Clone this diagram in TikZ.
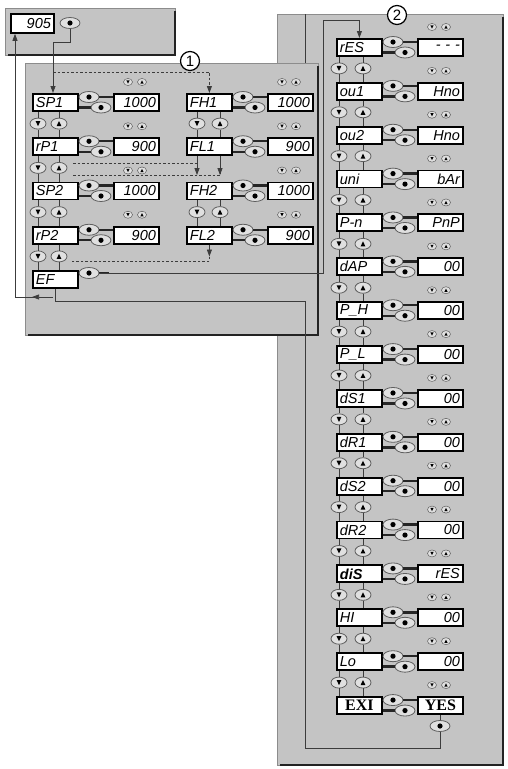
\documentclass[tikz,border=0pt]{standalone}
\usepackage{fontspec}
\usetikzlibrary{shapes.geometric,arrows.meta,calc}
\newfontfamily\lcdfont{Liberation Sans}
\newfontfamily\exifont{Liberation Serif}
\definecolor{panelgray}{RGB}{196,196,196}
\definecolor{btnfill}{RGB}{224,224,224}
\definecolor{btnline}{RGB}{95,95,95}
\definecolor{connc}{RGB}{60,60,60}
\definecolor{shadowc}{RGB}{35,35,35}

% name, x, y, label, value
\newcommand\prow[6][]{%
  \node[parbox,#1] (#2) at (#3,#4) {#5};
  \node[valbox,#1] (#2-v) at ({#3+81},{#4}) {#6};
  \node[eye] (#2-a) at ({#3+57},{#4+4}) {};
  \node[eye] (#2-b) at ({#3+69},{#4+14.5}) {};
  \draw[eyeline] (#2-a.east) -- (#2-a.east -| #2-v.west);
  \draw[eyeline] (#2-b.west -| #2.east) -- (#2-b.west);
  \node[icondn] (#2-i) at ({#3+81+15},{#4-11}) {};
  \node[iconup] (#2-j) at ({#3+81+29},{#4-11}) {};
}
% name, xdown, xup, y, upper node, lower node
\newcommand\btns[6]{%
  \node[dnbtn] (#1-d) at (#2,#4) {};
  \node[upbtn] (#1-u) at (#3,#4) {};
  \draw[conn] (#5.south -| #1-d) -- (#1-d.north);
  \draw[conn] (#1-d.south) -- (#6.north -| #1-d);
  \draw[conn] (#5.south -| #1-u) -- (#1-u.north);
  \draw[conn] (#1-u.south) -- (#6.north -| #1-u);
}

\begin{document}
\begin{tikzpicture}[x=1pt,y=-1pt,
  panelborder/.style={draw=black!45, line width=0.7pt},
  shadowline/.style={draw=shadowc, line width=2.8pt},
  lcdtext/.style={font=\lcdfont\itshape\fontsize{14.5}{14.5}\selectfont},
  exitext/.style={font=\exifont\bfseries\fontsize{16}{16}\selectfont, align=center},
  parbox/.style={rectangle, draw=black, line width=1.8pt, fill=white, inner xsep=3pt, inner ysep=0pt,
                 minimum height=17pt, text width=39pt, align=left, anchor=north west, lcdtext},
  valbox/.style={parbox, align=right},
  eye/.style={ellipse, draw=btnline, fill=btnfill, line width=0.8pt, minimum width=20pt, minimum height=11pt, inner sep=0pt,
              path picture={\fill[black] (path picture bounding box.center) circle (2.6pt);}},
  dnbtn/.style={ellipse, draw=btnline, fill=btnfill, line width=0.8pt, minimum width=16pt, minimum height=11pt, inner sep=0pt,
              path picture={\fill[black] ($(path picture bounding box.center)+(-2.4,-2.5)$) -- ++(4.8,0) -- ++(-2.4,5) -- cycle;}},
  upbtn/.style={ellipse, draw=btnline, fill=btnfill, line width=0.8pt, minimum width=16pt, minimum height=11pt, inner sep=0pt,
              path picture={\fill[black] ($(path picture bounding box.center)+(-2.4,2.5)$) -- ++(4.8,0) -- ++(-2.4,-5) -- cycle;}},
  icondn/.style={ellipse, draw=btnline, fill=btnfill, line width=0.5pt, minimum width=9pt, minimum height=7pt, inner sep=0pt,
              path picture={\fill[black] ($(path picture bounding box.center)+(-1.6,-1.6)$) -- ++(3.2,0) -- ++(-1.6,3.2) -- cycle;}},
  iconup/.style={ellipse, draw=btnline, fill=btnfill, line width=0.5pt, minimum width=9pt, minimum height=7pt, inner sep=0pt,
              path picture={\fill[black] ($(path picture bounding box.center)+(-1.6,1.6)$) -- ++(3.2,0) -- ++(-1.6,-3.2) -- cycle;}},
  conn/.style={draw=connc, line width=0.8pt},
  dashc/.style={draw=connc, line width=0.8pt, dash pattern=on 2.5pt off 2pt},
  eyeline/.style={draw=black!85, line width=2.4pt},
  arrowend/.style={-{Triangle[width=5pt,length=7pt]}},
  circlab/.style={circle, draw=black, line width=1.2pt, fill=white, minimum size=19pt, inner sep=0pt,
                  font=\lcdfont\fontsize{15}{15}\selectfont}
]
\useasboundingbox (0,0) rectangle (508,769);

% ---------- panels ----------
\fill[panelgray] (277,14) rectangle (503,765);
\draw[panelborder] (277,14) rectangle (503,765);
\draw[shadowline] (503,17) -- (503,765) -- (280,765);
\coordinate (t1) at (305,14);
\coordinate (t2) at (305,63);
\draw[conn] (t1) -- (t2);

\fill[panelgray] (25,63) rectangle (318,335);
\draw[panelborder] (25,63) rectangle (318,335);
\draw[shadowline] (318,66) -- (318,335) -- (28,335);

\fill[panelgray] (5,8) rectangle (175,55);
\draw[panelborder] (5,8) rectangle (175,55);
\draw[shadowline] (175,11) -- (175,55) -- (8,55);

\node[circlab] (c1) at (190,61) {1};
\node[circlab] (c2) at (397,15) {2};

% ---------- top display ----------
\node[valbox, text width=37pt, minimum height=19pt] (n905) at (10,13) {905};
\node[eye] (e905) at (70,23) {};

% ---------- panel 1, left column ----------
\prow{sp1}{32}{93}{SP1}{1000}
\prow{rp1}{32}{137.25}{rP1}{900}
\prow{sp2}{32}{181.5}{SP2}{1000}
\prow{rp2}{32}{225.75}{rP2}{900}
\node[parbox] (ef) at (32,270) {EF};
\node[eye] (efe) at (89,273) {};

\btns{a1}{38}{59}{123.6}{sp1}{rp1}
\btns{a2}{38}{59}{167.9}{rp1}{sp2}
\btns{a3}{38}{59}{212.1}{sp2}{rp2}
\btns{a4}{38}{59}{256.4}{rp2}{ef}

% ---------- panel 1, right column ----------
\prow{fh1}{186}{93}{FH1}{1000}
\prow{fl1}{186}{137.25}{FL1}{900}
\prow{fh2}{186}{181.5}{FH2}{1000}
\prow{fl2}{186}{225.75}{FL2}{900}

\btns{f1}{197}{220}{123.6}{fh1}{fl1}
\btns{f2}{197}{220}{212.1}{fh2}{fl2}

% ---------- panel 2 ----------
\foreach \i/\lab/\val in {0/rES/{-\,\,-\,\,-},1/ou1/Hno,2/ou2/Hno,3/uni/bAr,4/P-n/PnP,5/dAP/00,6/P\_H/00,7/P\_L/00,
   8/dS1/00,9/dR1/00,10/dS2/00,11/dR2/00,12/{\bfseries diS}/rES,13/HI/00,14/Lo/00}
  {\prow{r\i}{336}{38+43.87*\i}{\lab}{\val}}
\prow[exitext]{r15}{336}{696.05}{EXI}{YES}

\foreach \i in {0,...,14}{%
  \pgfmathtruncatemacro\j{\i+1}%
  \btns{b\i}{339}{363}{38+43.87*\i+30.4}{r\i}{r\j}}

\node[eye] (yese) at (440,726) {};
\draw[conn] (r15-v.south -| yese) -- (yese.north);

% ---------- connectors ----------
\coordinate (k1) at (53,42);
\draw[conn, arrowend] (e905.south) |- (k1) -- (k1 |- sp1.north);
\coordinate (k2) at (53,72);
\draw[dashc, arrowend] (k2) -| (fh1.north);

\coordinate (k3) at (197,163);
\coordinate (k5) at (73,163);
\coordinate (k4) at (220,175);
\coordinate (k6) at (73,175);
\draw[dashc] (k5) -- (k3);
\draw[dashc] (k6) -- (k4) -- ++(0,-6);
\draw[conn, arrowend] (fl1.south -| k3) -- ++(0,19);
\draw[conn, arrowend] (fl1.south -| k4) -- ++(0,19);

\coordinate (k7) at (72,261);
\draw[conn, arrowend] (fl2.south) -- ++(0,12);
\draw[dashc] ($(fl2.south)+(0,12)$) |- (k7);

\draw[eyeline] (efe.east) -- ++(10,0);
\coordinate (k8) at (323,20);
\draw[conn, arrowend] (efe.east) -| (k8) -| (r0.north);

\coordinate (k10) at (305,748);
\coordinate (k11) at (305,301);
\draw[conn] (yese.south) |- (k10) -- (k11) -- (k11 -| ef.south);
\draw[conn] (ef.south) -- (k11 -| ef.south);
\coordinate (k13) at (53,297);
\coordinate (k14) at (15,297);
\draw[conn, arrowend] (k13) -- ($(k13)!0.55!(k14)$);
\draw[conn, arrowend] ($(k13)!0.5!(k14)$) -- (k14) -- (k14 |- n905.south);
\end{tikzpicture}
\end{document}
